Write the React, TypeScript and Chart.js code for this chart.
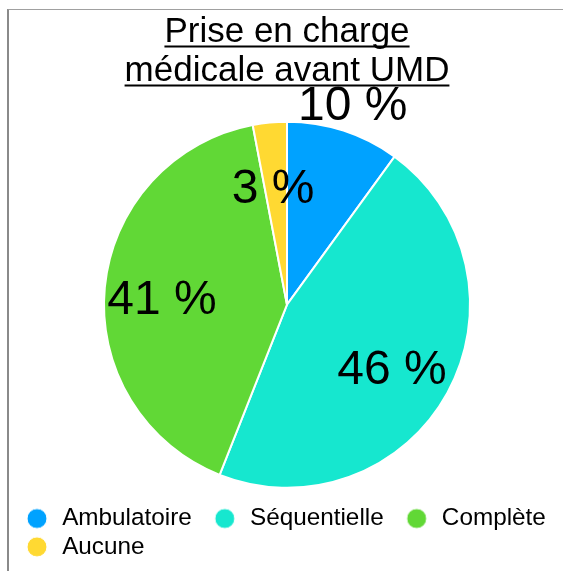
import React, { useEffect, useRef } from "react";
import { Chart, registerables } from "chart.js";

Chart.register(...registerables);

const categories = ["Ambulatoire", "Séquentielle", "Complète", "Aucune"];
const values = [10, 46, 41, 3];
const colors = ["#00A2FF", "#16E7CF", "#61D836", "#FFD932"];
const titleLines = ["Prise en charge", "médicale avant UMD"];

const FONT = "'Liberation Sans', Arial, Helvetica, sans-serif";
// label placement (style): distance as a fraction of radius, small angle nudge in degrees
const labelRadiusFactor = [1.161, 0.667, 0.685, 0.655];
const labelAngleNudge = [0, 1.8, -1.7, -1.3];

function makeDot(color: string): HTMLCanvasElement {
  const c = document.createElement("canvas");
  c.width = 38;
  c.height = 22;
  const ctx = c.getContext("2d")!;
  ctx.beginPath();
  ctx.arc(27, 11, 10, 0, Math.PI * 2);
  ctx.fillStyle = color;
  ctx.fill();
  ctx.lineWidth = 1;
  ctx.strokeStyle = "#ffffff";
  ctx.stroke();
  return c;
}

const sliceLabels = {
  id: "sliceLabels",
  afterDatasetsDraw(chart: any) {
    const meta = chart.getDatasetMeta(0);
    const ctx = chart.ctx;
    ctx.save();
    ctx.font = `48px ${FONT}`;
    ctx.fillStyle = "#000";
    ctx.textAlign = "center";
    ctx.textBaseline = "alphabetic";
    meta.data.forEach((arc: any, i: number) => {
      const p = arc.getProps(["x", "y", "startAngle", "endAngle", "outerRadius"], true);
      const mid = (p.startAngle + p.endAngle) / 2 + (labelAngleNudge[i] * Math.PI) / 180;
      const r = p.outerRadius * labelRadiusFactor[i];
      ctx.fillText(`${values[i]} %`, p.x + Math.cos(mid) * r, p.y + Math.sin(mid) * r + 17);
    });
    ctx.restore();
  },
};

const titleUnderline = {
  id: "titleUnderline",
  afterDraw(chart: any) {
    const tb = chart.titleBlock;
    if (!tb) return;
    const ctx = chart.ctx;
    ctx.save();
    ctx.font = `35px ${FONT}`;
    ctx.fillStyle = "#000";
    const cx = (tb.left + tb.right) / 2;
    titleLines.forEach((line, i) => {
      const w = ctx.measureText(line).width;
      const y = tb.top + 3 + 19.5 + 39 * i + 13;
      ctx.fillRect(cx - w / 2, y, w, 2);
    });
    ctx.restore();
  },
};

export default function App() {
  const ref = useRef<HTMLCanvasElement>(null);

  useEffect(() => {
    document.body.style.overflow = "hidden";
    const dots = colors.map(makeDot);
    const chart = new Chart(ref.current!, {
      type: "pie",
      data: {
        labels: categories,
        datasets: [
          {
            data: values,
            backgroundColor: colors,
            borderColor: "#ffffff",
            borderWidth: 2,
            hoverOffset: 0,
            offset: 0,
          },
        ],
      },
      options: {
        responsive: false,
        animation: false,
        radius: 183,
        layout: { padding: { top: 0, left: -5, right: -5, bottom: 2 } },
        plugins: {
          title: {
            display: true,
            text: titleLines,
            color: "#000",
            font: { family: FONT, size: 35, weight: "normal", lineHeight: "39px" },
            padding: { top: 3, bottom: 16 },
          },
          legend: {
            display: true,
            position: "bottom",
            align: "start",
            labels: {
              color: "#000",
              font: { family: FONT, size: 24.3 },
              usePointStyle: true,
              pointStyleWidth: 42,
              padding: 4,
              generateLabels: (c: any) => {
                const items = (Chart as any).overrides.pie.plugins.legend.labels.generateLabels(c);
                return items.map((it: any, i: number) => ({ ...it, pointStyle: dots[i] }));
              },
            },
          },
          tooltip: { enabled: false },
        },
      } as any,
      plugins: [sliceLabels, titleUnderline],
    });
    return () => chart.destroy();
  }, []);

  return (
    <div
      style={{
        position: "fixed",
        left: 7,
        top: 9,
        width: 558,
        height: 562,
        boxSizing: "border-box",
        borderTop: "1px solid #a0a0a0",
        borderLeft: "2px solid #8a8a8a",
        background: "#fff",
      }}
    >
      <canvas ref={ref} width={556} height={561} style={{ display: "block" }} />
    </div>
  );
}
